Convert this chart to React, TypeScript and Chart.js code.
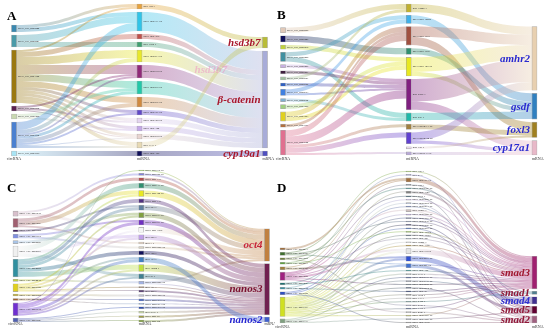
import React, { useEffect, useRef } from "react";
import { Chart, registerables } from "chart.js";
Chart.register(...registerables);

type Link = [number, number, number];

// ---------------- Panel A ----------------
const A_circ = ["novel_circ_0002244", "novel_circ_0002247", "novel_circ_0003104", "novel_circ_0006064", "novel_circ_0006489", "novel_circ_0007864", "novel_circ_0007866"];
const A_circColors = ["#3a88b0", "#4a9aa8", "#9a7810", "#5a2050", "#c8d8b0", "#4a80d0", "#a8e4f4"];
const A_mi = ["miR-199-x", "novel-miR771-5p", "novel-miR-275", "miR-7550-x", "novel-miR973-5p", "novel-miR874-5p", "novel-miR975-5p", "novel-miR976-5p", "novel-miR357-5p", "novel-miR328-5p", "novel-miR-724", "novel-miR974-5p", "miR-7133-x", "novel-miR-185"];
const A_miColors = ["#e8a23c", "#30c4e8", "#c0504a", "#3fa070", "#e8e82a", "#902a78", "#22c8a8", "#d08a40", "#6048c8", "#e4d4f0", "#c4a8e8", "#e8d4d0", "#e8dab4", "#10105a"];
const A_m = ["hsd3b7", "β-catenin", "cyp19a1"];
const A_mColors = ["#b8bc38", "#a8acd8", "#5050c0"];
const A_mLabelColors = ["#a8182c", "#a8182c", "#a8182c"];
const A_circToMi: Link[] = [[0,0,3],[0,1,4],[1,1,7],[1,3,5],[2,0,2],[2,2,5],[2,4,8],[2,5,9],[2,6,7],[2,7,6],[2,8,3],[2,9,3],[2,10,3],[2,11,3],[2,12,4],[3,5,2],[3,9,2],[3,11,1],[4,6,3],[4,10,2],[5,1,8],[5,4,4],[5,5,2],[5,6,3],[5,7,4],[5,8,2],[5,11,1],[5,12,2],[6,13,5]];
const A_miToM: Link[] = [[0,0,5],[1,1,19],[2,1,5],[3,1,5],[4,1,12],[5,1,13],[6,1,13],[7,1,10],[8,1,5],[9,1,5],[10,1,5],[11,1,5],[12,0,6],[13,2,5]];

// ---------------- Panel B ----------------
const B_circ = ["novel_circ_0000098", "novel_circ_0000445", "novel_circ_0000478", "novel_circ_0000498", "novel_circ_0000495", "novel_circ_0000497", "novel_circ_0000507", "novel_circ_0000509", "novel_circ_0000653", "novel_circ_0000684", "novel_circ_0007288", "novel_circ_0007293", "novel_circ_0007567", "novel_circ_0007604"];
const B_circColors = ["#e0c8b8", "#10105a", "#c0d040", "#4090a0", "#c8b0e0", "#402040", "#a0c0a0", "#3060c0", "#4080e0", "#80b0d0", "#a0d080", "#e0d020", "#b07040", "#e07090"];
const B_mi = ["miR-10049-x", "novel-miR-1009a", "novel-miR-757a", "novel-miR-757b", "novel-miR-148-5p", "miR-2968-x", "miR-223-x", "novel-miR4113-5p", "novel-miR4194-5p", "miR-727-x", "novel-miR533-5p"];
const B_miColors = ["#c0b030", "#40b0e8", "#a05040", "#309070", "#e8e820", "#802080", "#20b8a8", "#a08040", "#6040d0", "#e8d8e8", "#b8a8d8"];
const B_m = ["amhr2", "gsdf", "foxl3", "cyp17a1"];
const B_mColors = ["#e8d0b0", "#3080c0", "#a08020", "#e8b8c8"];
const B_mLabelColors = ["#2a2ad0", "#2a2ad0", "#2a2ad0", "#2a2ad0"];
const B_circToMi: Link[] = [[0,0,5],[1,3,6],[2,4,4],[3,1,4],[3,6,5],[4,5,3],[5,5,3],[6,0,3],[7,5,3],[8,1,4],[8,5,2],[9,6,3],[10,4,4],[11,2,5],[11,4,4],[12,2,3],[13,2,6],[13,5,8],[13,7,3],[13,8,5],[13,10,2]];
const B_miToM: Link[] = [[0,0,8],[1,1,8],[2,0,10],[2,2,8],[3,1,6],[4,0,14],[4,1,4],[5,0,22],[5,3,8],[6,1,7],[7,2,5],[8,0,8],[8,3,3],[9,2,2],[10,3,3]];

// ---------------- Panel C ----------------
const C_circ = ["novel_circ_0001239", "novel_circ_0001247", "novel_circ_0001602", "novel_circ_0001612", "novel_circ_0002025", "novel_circ_0002521", "novel_circ_0004099", "novel_circ_0004439", "novel_circ_0005649", "novel_circ_0006602", "novel_circ_0007064", "novel_circ_0007532", "novel_circ_0007546"];
const C_circColors = ["#d8c0cc", "#a06070", "#402060", "#8090e0", "#a8c4e8", "#f0f0f0", "#3090a0", "#c0d040", "#e0d020", "#c0b040", "#a06030", "#7030d0", "#5060b0"];
const C_mi = ["novel-miR532-5p", "novel-miR292-5p", "novel-miR-711", "novel-miR111-5p", "novel-miR394-5p", "novel-miR-113", "miR-203-x", "novel-miR973-5p", "novel-miR871-5p", "novel-miR-727b", "miR-205-x", "miR-7-x", "novel-miR8596-5p", "miR-190-x", "miR-153-x", "miR-10404-x", "miR-27-x", "novel-miR8596-5p", "miR-187-x", "miR-499-x", "novel-miR6502-5p", "novel-miR6512-5p", "novel-miR6513-5p", "novel-miR6515-5p", "miR-2187-x", "novel-miR-93", "novel-miR-94"];
const C_miColors = ["#80c040", "#8080e0", "#b05050", "#309070", "#e8e820", "#503080", "#6080a0", "#80a040", "#7030c0", "#f4f4f4", "#c0a0e8", "#e0d0c0", "#d8d0c0", "#10105a", "#4080c0", "#c0e040", "#408090", "#a0b0e0", "#806040", "#402060", "#c0c0d0", "#4060c0", "#80a0d0", "#3050b0", "#c0d0a0", "#a0a040", "#80a040"];
const C_m = ["oct4", "nanos3", "nanos2"];
const C_mColors = ["#c08040", "#702050", "#4060d0"];
const C_mLabelColors = ["#c8283c", "#7a1030", "#2828d0"];
const C_circToMi: Link[] = [[0,1,2],[0,9,3],[1,2,3],[1,4,4],[1,11,2],[2,6,2],[3,8,2],[3,12,2],[4,7,3],[5,3,5],[5,10,3],[5,16,3],[6,4,2],[6,5,4],[6,6,3],[6,13,4],[6,15,5],[7,17,2],[8,7,2],[8,10,2],[8,14,2],[8,18,1],[8,19,1],[9,20,2],[10,21,1],[10,22,1],[11,0,1],[11,8,3],[11,9,2],[11,14,3],[11,15,2],[11,16,2],[12,23,1],[12,24,1],[12,25,1],[12,26,1]];
const C_miToM: Link[] = [[0,0,1],[1,0,2],[2,0,3],[3,0,5],[4,0,6],[6,0,5],[9,0,5],[11,0,2],[12,0,2],[17,0,2],[5,1,4],[7,1,5],[8,1,5],[10,1,5],[13,1,4],[15,1,7],[16,1,5],[17,1,1],[18,1,1],[19,1,2],[20,1,2],[21,1,2],[22,1,1],[23,1,2],[24,1,2],[25,1,2],[26,1,2],[14,2,5]];

// ---------------- Panel D ----------------
const D_circ = ["novel_circ_0000471", "novel_circ_0000648", "novel_circ_0001002", "novel_circ_0002051", "novel_circ_0002325", "novel_circ_0003020", "novel_circ_0003426", "novel_circ_0003732", "novel_circ_0005649", "novel_circ_0007323", "novel_circ_0007333"];
const D_circColors = ["#a07040", "#407030", "#708040", "#60a040", "#a08040", "#a02080", "#207070", "#4090a0", "#3050c0", "#d0e020", "#80a080"];
const D_mi = ["miR-128-x", "miR-27-x", "novel-miR357-5p", "miR-142-x", "novel-miR9356-5p", "novel-miR-1145", "miR-8035-x", "novel-miR8998-5p", "novel-miR8969-5p", "novel-miR8271-5p", "miR-10466-x", "novel-miR8595-5p", "novel-miR6857-5p", "novel-miR8035-5p", "novel-miR8088-5p", "novel-miR8021-5p", "novel-miR-16650", "novel-miR-16603", "novel-miR-291", "miR-10422-x", "novel-miR-1150", "novel-miR314-5p", "novel-miR4221-5p", "novel-miR406-5p", "novel-miR-382", "miR-7133-x", "novel-miR2175-5p", "novel-miR2178-5p", "novel-miR2280-5p", "novel-miR2264-5p", "novel-miR-93", "miR-1010-x", "miR-133-x", "miR-2390-x", "miR-2197-x", "miR-133b-x", "miR-4843-x", "novel-miR8868-5p", "novel-miR7505-5p", "novel-miR-9179"];
const D_miColors = ["#80b040", "#8080d0", "#a07040", "#607080", "#408080", "#808080", "#305060", "#b0a0d0", "#a0b0d0", "#6070a0", "#d0c0c0", "#a090c0", "#304080", "#506080", "#202050", "#4060a0", "#80b040", "#506070", "#8090a0", "#c0c0c0", "#a08030", "#e4e4e4", "#3050d0", "#4070d0", "#308080", "#90a0a0", "#405080", "#506080", "#304050", "#304060", "#203060", "#707070", "#a0a0a0", "#407070", "#8080a0", "#506080", "#a0a0a0", "#a0a060", "#8090a0", "#606060"];
const D_m = ["smad3", "smad1", "smad4", "smad5", "smad2"];
const D_mColors = ["#a02070", "#508090", "#403090", "#600030", "#a06080"];
const D_mLabelColors = ["#a01830", "#901838", "#3030d0", "#901838", "#901838"];
const D_circToMi: Link[] = [[1,0,1],[3,1,1],[0,2,2],[4,2,1],[5,3,1],[2,4,1],[9,5,1],[5,6,1],[7,7,1],[9,8,1],[8,9,1],[5,10,1],[6,11,1],[9,12,1],[1,13,1],[9,14,1],[8,15,1],[3,16,1],[9,17,1],[5,18,1],[10,19,1],[9,20,1],[5,21,2],[9,21,2],[9,22,2],[4,22,2],[1,23,1],[9,23,2],[6,24,1],[9,25,1],[10,26,1],[9,27,1],[5,28,1],[9,29,1],[7,30,1],[9,31,1],[10,32,1],[9,33,1],[2,34,1],[9,35,1],[5,36,1],[9,37,1],[10,38,1],[8,39,1]];
const D_miToM: Link[] = [[0,0,1],[1,2,1],[2,0,4],[3,3,1],[4,0,1],[5,0,2],[6,4,1],[7,0,1],[8,3,1],[9,1,1],[10,0,1],[10,4,1],[11,0,1],[12,0,1],[13,0,1],[14,2,1],[15,3,1],[16,0,1],[17,0,1],[18,0,1],[19,4,1],[20,0,1],[21,0,5],[22,2,5],[23,3,3],[23,0,1],[24,0,1],[25,0,1],[26,0,1],[27,1,1],[28,0,1],[29,4,1],[30,0,1],[31,0,1],[32,0,1],[33,1,1],[34,4,1],[35,0,1],[36,4,1],[37,0,1],[38,3,1],[39,4,1]];

const COLUMN_TITLES = ["circRNA", "miRNA", "mRNA"];

interface Spec {
  letter: string;
  names: string[][];
  colors: string[][];
  mLabelColors: string[];
  l1: Link[];
  l2: Link[];
}
interface Geo {
  cols: number[]; top: number; bottom: number; pad: number;
  letterX: number; letterY: number; titleY: number;
  extra?: { text: string; x: number; y: number; color: string }[];
}

const SPECS: Spec[] = [
  { letter: "A", names: [A_circ, A_mi, A_m], colors: [A_circColors, A_miColors, A_mColors], mLabelColors: A_mLabelColors, l1: A_circToMi, l2: A_miToM },
  { letter: "B", names: [B_circ, B_mi, B_m], colors: [B_circColors, B_miColors, B_mColors], mLabelColors: B_mLabelColors, l1: B_circToMi, l2: B_miToM },
  { letter: "C", names: [C_circ, C_mi, C_m], colors: [C_circColors, C_miColors, C_mColors], mLabelColors: C_mLabelColors, l1: C_circToMi, l2: C_miToM },
  { letter: "D", names: [D_circ, D_mi, D_m], colors: [D_circColors, D_miColors, D_mColors], mLabelColors: D_mLabelColors, l1: D_circToMi, l2: D_miToM },
];
const GEOS: Geo[] = [
  { cols: [14, 139.5, 265], top: 4, bottom: 156, pad: 3, letterX: 7, letterY: 20, titleY: 160,
    extra: [{ text: "hsd3b7", x: 227, y: 70, color: "rgba(240,130,190,0.45)" }] },
  { cols: [8, 134, 259.5], top: 4, bottom: 155, pad: 3, letterX: 2, letterY: 19, titleY: 160 },
  { cols: [15.5, 141.5, 267], top: 2, bottom: 154, pad: 2.5, letterX: 7, letterY: 24, titleY: 157 },
  { cols: [7.5, 134.5, 259.5], top: 3, bottom: 155, pad: 2.4, letterX: 2, letterY: 24, titleY: 160 },
];

function rgba(hex: string, a: number) {
  const h = hex.replace("#", "");
  const r = parseInt(h.slice(0, 2), 16), g = parseInt(h.slice(2, 4), 16), b = parseInt(h.slice(4, 6), 16);
  return `rgba(${r},${g},${b},${a})`;
}

function layout(spec: Spec, pad: number) {
  const counts = spec.names.map((n) => n.length);
  const ins = counts.map((n) => new Array(n).fill(0));
  const outs = counts.map((n) => new Array(n).fill(0));
  const links: { c: number; s: number; t: number; v: number; sy: number; ty: number }[] = [];
  spec.l1.forEach(([s, t, v]) => { outs[0][s] += v; ins[1][t] += v; links.push({ c: 0, s, t, v, sy: 0, ty: 0 }); });
  spec.l2.forEach(([s, t, v]) => { outs[1][s] += v; ins[2][t] += v; links.push({ c: 1, s, t, v, sy: 0, ty: 0 }); });
  const values = counts.map((n, c) => Array.from({ length: n }, (_, i) => Math.max(ins[c][i], outs[c][i])));
  const extents = values.map((vs) => vs.reduce((a, b) => a + b, 0) + (vs.length - 1) * pad);
  const E = Math.max(...extents);
  const y0s = values.map((vs, c) => { let y = E - extents[c]; return vs.map((v) => { const r = y; y += v + pad; return r; }); });
  for (let c = 0; c < 2; c++) {
    for (let i = 0; i < counts[c]; i++) {
      let off = y0s[c][i];
      links.filter((l) => l.c === c && l.s === i).sort((a, b) => y0s[c + 1][a.t] - y0s[c + 1][b.t]).forEach((l) => { l.sy = off; off += l.v; });
    }
  }
  for (let c = 1; c < 3; c++) {
    for (let i = 0; i < counts[c]; i++) {
      let off = y0s[c][i];
      links.filter((l) => l.c === c - 1 && l.t === i).sort((a, b) => y0s[c - 1][a.s] - y0s[c - 1][b.s]).forEach((l) => { l.ty = off; off += l.v; });
    }
  }
  return { values, y0s, E, links };
}

const W = 275, H = 168, NODE_W = 5;

function Panel({ idx }: { idx: number }) {
  const ref = useRef<HTMLCanvasElement | null>(null);
  useEffect(() => {
    const spec = SPECS[idx];
    const geo = GEOS[idx];
    const L = layout(spec, geo.pad);
    const barData: any[] = [];
    const barColors: string[] = [];
    L.values.forEach((vs, c) => vs.forEach((v, i) => {
      barData.push({ x: c, y: [L.y0s[c][i], L.y0s[c][i] + v] });
      barColors.push(spec.colors[c][i]);
    }));

    const linkPlugin = {
      id: "sankeyLinks",
      beforeDatasetsDraw(chart: any) {
        const ctx = chart.ctx, xs = chart.scales.x, ys = chart.scales.y;
        ctx.save();
        L.links.forEach((l) => {
          const x0 = xs.getPixelForValue(l.c) + NODE_W / 2;
          const x1 = xs.getPixelForValue(l.c + 1) - NODE_W / 2;
          const s0 = ys.getPixelForValue(l.sy), s1 = ys.getPixelForValue(l.sy + l.v);
          const t0 = ys.getPixelForValue(l.ty), t1 = ys.getPixelForValue(l.ty + l.v);
          const xm = (x0 + x1) / 2;
          ctx.beginPath();
          ctx.moveTo(x0, s0);
          ctx.bezierCurveTo(xm, s0, xm, t0, x1, t0);
          ctx.lineTo(x1, t1);
          ctx.bezierCurveTo(xm, t1, xm, s1, x0, s1);
          ctx.closePath();
          const g = ctx.createLinearGradient(x0, 0, x1, 0);
          g.addColorStop(0, rgba(spec.colors[l.c][l.s], 0.37));
          g.addColorStop(1, rgba(spec.colors[l.c + 1][l.t], 0.37));
          ctx.fillStyle = g;
          ctx.fill();
        });
        ctx.restore();
      },
    };

    const labelPlugin = {
      id: "sankeyLabels",
      afterDatasetsDraw(chart: any) {
        const ctx = chart.ctx, xs = chart.scales.x, ys = chart.scales.y;
        ctx.save();
        ctx.textBaseline = "middle";
        ctx.textAlign = "left";
        ctx.fillStyle = "#333";
        ctx.font = '2.6px "Liberation Serif"';
        for (let c = 0; c < 2; c++) {
          spec.names[c].forEach((name, i) => {
            const yc = ys.getPixelForValue(L.y0s[c][i] + L.values[c][i] / 2);
            ctx.fillText(name, xs.getPixelForValue(c) + NODE_W / 2 + 1.5, yc);
          });
        }
        ctx.font = 'bold italic 11px "Liberation Serif"';
        ctx.textAlign = "right";
        spec.names[2].forEach((name, i) => {
          const yc = ys.getPixelForValue(L.y0s[2][i] + L.values[2][i] / 2);
          ctx.fillStyle = spec.mLabelColors[i];
          ctx.fillText(name, xs.getPixelForValue(2) - NODE_W / 2 - 2, yc + 0.5);
        });
        (geo.extra || []).forEach((e) => {
          ctx.fillStyle = e.color;
          ctx.fillText(e.text, e.x, e.y);
        });
        ctx.textBaseline = "alphabetic";
        ctx.fillStyle = "#333";
        ctx.font = '4px "Liberation Serif"';
        COLUMN_TITLES.forEach((t, c) => {
          const x = xs.getPixelForValue(c);
          if (c === 0) { ctx.textAlign = "center"; ctx.fillText(t, x, geo.titleY); }
          else { ctx.textAlign = "left"; ctx.fillText(t, x - NODE_W / 2, geo.titleY); }
        });
        ctx.fillStyle = "#000";
        ctx.textAlign = "left";
        ctx.font = 'bold 13px "Liberation Serif"';
        ctx.fillText(spec.letter, geo.letterX, geo.letterY);
        ctx.restore();
      },
    };

    const chart = new Chart(ref.current as HTMLCanvasElement, {
      type: "bar",
      data: {
        datasets: [{
          data: barData,
          backgroundColor: barColors,
          borderColor: "rgba(0,0,0,0.35)",
          borderWidth: 0.6,
          borderSkipped: false,
          barThickness: NODE_W,
          clip: false,
        } as any],
      },
      options: {
        animation: false,
        responsive: false,
        maintainAspectRatio: false,
        events: [],
        layout: { padding: { left: geo.cols[0], right: W - geo.cols[2], top: geo.top, bottom: H - geo.bottom } },
        scales: {
          x: { type: "linear", min: 0, max: 2, offset: false, display: false },
          y: { type: "linear", min: 0, max: L.E, reverse: true, display: false },
        },
        plugins: { legend: { display: false }, tooltip: { enabled: false } },
      } as any,
      plugins: [linkPlugin, labelPlugin],
    });
    return () => chart.destroy();
  }, [idx]);
  return <canvas ref={ref} width={W} height={H} style={{ width: W, height: H, display: "block" }} />;
}

export default function App() {
  return (
    <div style={{ position: "fixed", left: 0, top: 0, width: 550, height: 336, background: "#fff", display: "grid", gridTemplateColumns: "275px 275px", gridTemplateRows: "168px 168px" }}>
      {[0, 1, 2, 3].map((i) => <Panel key={i} idx={i} />)}
    </div>
  );
}
